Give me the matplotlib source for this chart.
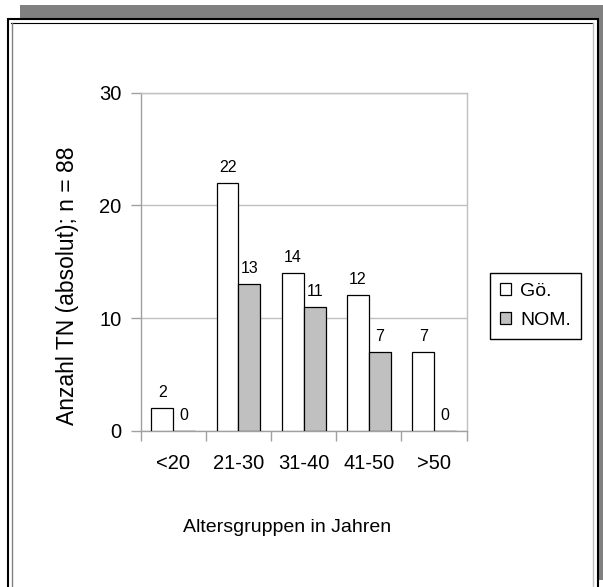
import numpy as np, matplotlib; matplotlib.use("Agg")
import matplotlib.pyplot as plt
from matplotlib.patches import Rectangle
from matplotlib.lines import Line2D

plt.rcParams['font.family'] = ['Liberation Sans', 'DejaVu Sans']

# --- Daten ---
kategorien = ['<20', '21-30', '31-40', '41-50', '>50']
serien = ['Gö.', 'NOM.']
werte_go = [2, 22, 14, 12, 7]
werte_nom = [0, 13, 11, 7, 0]
y_ticks = [0, 10, 20, 30]

W, H = 603, 587
fig = plt.figure(figsize=(W/100, H/100), dpi=100)

def fx(x): return x / W
def fy(y): return (H - y) / H

# --- Rahmen mit Schatten ---
fig.add_artist(Rectangle((fx(20), fy(580)), fx(603) - fx(20) + 0.01, fy(5) - fy(580),
                         transform=fig.transFigure, fc='#808080', ec='none', zorder=-5))
fig.add_artist(Rectangle((fx(7.5), fy(600)), fx(598) - fx(7.5), fy(18.5) - fy(600),
                         transform=fig.transFigure, fc='white', ec='black', lw=1.5, zorder=-4))
fig.add_artist(Line2D([fx(11), fx(593)], [fy(22.5), fy(22.5)], transform=fig.transFigure,
                      color='black', lw=0.8, zorder=-3))
fig.add_artist(Line2D([fx(11.5), fx(11.5)], [fy(22.5), fy(600)], transform=fig.transFigure,
                      color='#808080', lw=1.0, zorder=-3))
fig.add_artist(Line2D([fx(593), fx(593)], [fy(22.5), fy(600)], transform=fig.transFigure,
                      color='#c0c0c0', lw=1.0, zorder=-3))

# --- Diagramm ---
ax = fig.add_axes([fx(140.7), fy(430.7), fx(466.7) - fx(140.7), fy(92.7) - fy(430.7)])
x = np.arange(len(kategorien))
bw = 0.337
b1 = ax.bar(x - bw/2, werte_go, bw, color='white', edgecolor='black', lw=0.9, label=serien[0], zorder=3)
b2 = ax.bar(x + bw/2, werte_nom, bw, color='#c0c0c0', edgecolor='black', lw=0.9, label=serien[1], zorder=3)
for bars, vals in ((b1, werte_go), (b2, werte_nom)):
    for r, v in zip(bars, vals):
        ax.annotate(str(v), (r.get_x() + r.get_width()/2, v), xytext=(0, 8),
                    textcoords='offset points', ha='center', va='baseline', fontsize=11.5)

ax.set_xlim(-0.5, len(kategorien) - 0.5)
ax.set_ylim(0, 30)
ax.set_yticks(y_ticks)
ax.set_xticks(x)
ax.set_xticklabels(kategorien)
ax.set_xticks(np.arange(len(kategorien) + 1) - 0.5, minor=True)
ax.tick_params(axis='x', which='major', length=0, pad=17, labelsize=14.5)
ax.tick_params(axis='x', which='minor', length=7.5, color='#a0a0a0', width=1)
ax.tick_params(axis='y', length=7.2, color='#a0a0a0', width=1, pad=6.5, labelsize=14.5)
ax.yaxis.grid(True, color='#c0c0c0', lw=1, zorder=0)
for s in ax.spines.values():
    s.set_color('#a0a0a0'); s.set_linewidth(1)
ax.spines['top'].set_color('#c0c0c0')
ax.spines['right'].set_color('#c0c0c0')

ax.set_xlabel('Altersgruppen in Jahren', fontsize=14, va='baseline')
ax.xaxis.set_label_coords(fx(287.5), fy(532), transform=fig.transFigure)
ax.set_ylabel('Anzahl TN (absolut); n = 88', fontsize=16.5, va='center')
ax.yaxis.set_label_coords(fx(68), fy(286), transform=fig.transFigure)

leg = ax.legend(loc='center left', bbox_to_anchor=(fx(490), fy(306)), bbox_transform=fig.transFigure,
                borderaxespad=0, fancybox=False, framealpha=1, edgecolor='black', fontsize=14,
                handlelength=0.6, handleheight=0.6, handletextpad=0.45, labelspacing=0.6, borderpad=0.5)
leg.get_frame().set_linewidth(1)

fig.savefig('out.png', dpi=100)
